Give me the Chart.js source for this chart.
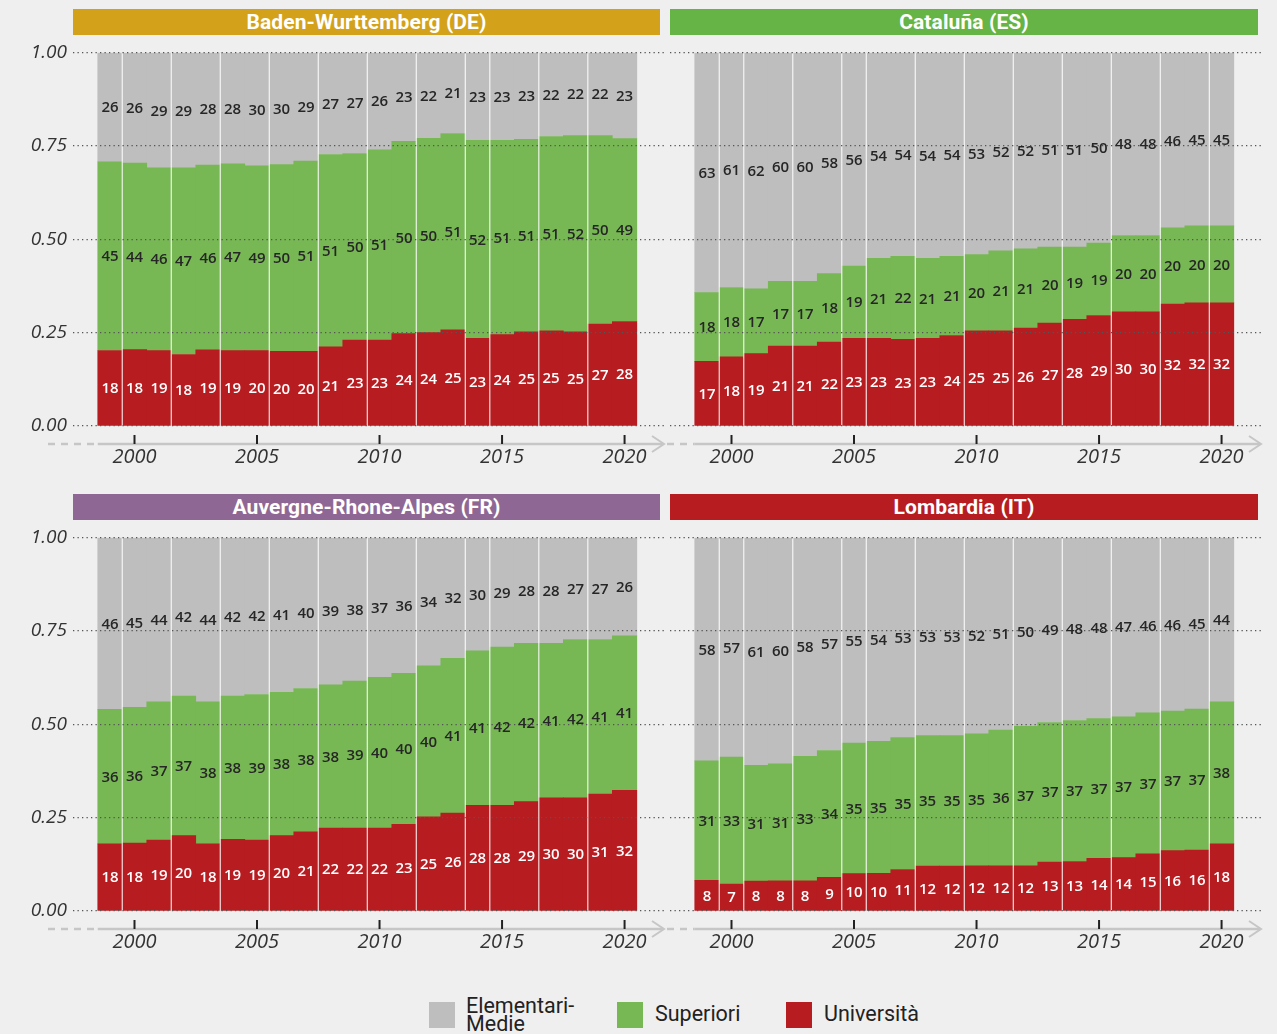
<!DOCTYPE html>
<html><head><meta charset="utf-8">
<script src="https://cdn.jsdelivr.net/npm/chart.js@4.4.0/dist/chart.umd.min.js"></script>
<style>
html,body{margin:0;padding:0;background:#efefef;}
body{width:1277px;height:1034px;position:relative;overflow:hidden;font-family:Roboto,sans-serif;}
.strip{position:absolute;height:26px;color:#fff;font:700 21px Roboto,sans-serif;text-align:center;line-height:26px;letter-spacing:0.1px;}
canvas{position:absolute;}
.sq{position:absolute;width:26px;height:26px;top:1002px;}
.lt{position:absolute;font:400 21.5px Roboto,sans-serif;color:#222;line-height:18px;top:997px;}
</style></head><body>
<script>
// ---------- DATA ----------
const years = [1999,2000,2001,2002,2003,2004,2005,2006,2007,2008,2009,2010,2011,2012,2013,2014,2015,2016,2017,2018,2019,2020];
const xTicks = [2000,2005,2010,2015,2020];
const yTicks = [0,0.25,0.5,0.75,1];
const seriesNames = ['Elementari-Medie','Superiori','Università'];

const badenUni  = [18,18,19,18,19,19,20,20,20,21,23,23,24,24,25,23,24,25,25,25,27,28];
const badenSup  = [45,44,46,47,46,47,49,50,51,51,50,51,50,50,51,52,51,51,51,52,50,49];
const badenElem = [26,26,29,29,28,28,30,30,29,27,27,26,23,22,21,23,23,23,22,22,22,23];

const catUni  = [17,18,19,21,21,22,23,23,23,23,24,25,25,26,27,28,29,30,30,32,32,32];
const catSup  = [18,18,17,17,17,18,19,21,22,21,21,20,21,21,20,19,19,20,20,20,20,20];
const catElem = [63,61,62,60,60,58,56,54,54,54,54,53,52,52,51,51,50,48,48,46,45,45];

const auvUni  = [18,18,19,20,18,19,19,20,21,22,22,22,23,25,26,28,28,29,30,30,31,32];
const auvSup  = [36,36,37,37,38,38,39,38,38,38,39,40,40,40,41,41,42,42,41,42,41,41];
const auvElem = [46,45,44,42,44,42,42,41,40,39,38,37,36,34,32,30,29,28,28,27,27,26];

const lomUni  = [8,7,8,8,8,9,10,10,11,12,12,12,12,12,13,13,14,14,15,16,16,18];
const lomSup  = [31,33,31,31,33,34,35,35,35,35,35,35,36,37,37,37,37,37,37,37,37,38];
const lomElem = [58,57,61,60,58,57,55,54,53,53,53,52,51,50,49,48,48,47,46,46,45,44];

const titles = ['Baden-Wurttemberg (DE)','Cataluña (ES)','Auvergne-Rhone-Alpes (FR)','Lombardia (IT)'];

// ---------- STYLE ----------
const COL_ELEM = '#bebebe', COL_SUP = '#77b855', COL_UNI = '#b71c20';
const stripColors = ['#d4a21a','#66b446','#8f6795','#b71c20'];
const sepLeft  = [1999.5,2001.5,2003.5,2005.5,2007.5,2009.5,2011.5,2013.5,2014.5,2016.5,2018.5];
const sepRight = [1999.5,2000.5,2002.5,2004.5,2005.5,2007.5,2009.5,2011.5,2013.5,2015.5,2017.5,2019.5];

const panels = [
  {title:titles[0], color:stripColors[0], uni:badenUni, sup:badenSup, elem:badenElem, left:0,   top:40,  showY:true,  dashOff:25, seps:sepLeft},
  {title:titles[1], color:stripColors[1], uni:catUni,   sup:catSup,   elem:catElem,   left:597, top:40,  showY:false, dashOff:3,  seps:sepRight},
  {title:titles[2], color:stripColors[2], uni:auvUni,   sup:auvSup,   elem:auvElem,   left:0,   top:525, showY:true,  dashOff:25, seps:sepLeft},
  {title:titles[3], color:stripColors[3], uni:lomUni,   sup:lomSup,   elem:lomElem,   left:597, top:525, showY:false, dashOff:3,  seps:sepRight}
];

const CW = 668, CH = 440;

const segLabels = {
  id:'segLabels',
  afterDraw(chart){
    const ctx = chart.ctx;
    ctx.save();
    ctx.font = "600 15px 'Open Sans', sans-serif";
    ctx.textAlign = 'center';
    ctx.textBaseline = 'middle';
    chart.data.datasets.forEach((ds,di)=>{
      const meta = chart.getDatasetMeta(di);
      meta.data.forEach((el,i)=>{
        const p = el.getProps(['x','y','base'], true);
        ctx.fillStyle = ds.labelColor;
        ctx.fillText(String(ds.raw[i]), p.x, (p.y + p.base)/2 + 1);
      });
    });
    ctx.restore();
  }
};

const axisDeco = {
  id:'axisDeco',
  afterDatasetsDraw(chart, args, opts){
    const ctx = chart.ctx, xs = chart.scales.x, ys = chart.scales.y;
    ctx.save();
    ctx.strokeStyle = 'rgba(255,255,255,0.85)';
    ctx.lineWidth = 1.2;
    const t = ys.getPixelForValue(1), b = ys.getPixelForValue(0);
    opts.seps.forEach(v=>{
      const px = xs.getPixelForValue(v);
      ctx.beginPath(); ctx.moveTo(px, t); ctx.lineTo(px, b); ctx.stroke();
    });
    ctx.restore();
  },
  afterDraw(chart, args, opts){
    const ctx = chart.ctx, xs = chart.scales.x, area = chart.chartArea;
    const yA = area.bottom + 18;
    const x0 = xs.getPixelForValue(years[0] - 0.5);
    ctx.save();
    ctx.strokeStyle = '#c6c6c6';
    ctx.lineWidth = 2.5;
    ctx.setLineDash([7,6]);
    ctx.beginPath(); ctx.moveTo(area.left - opts.dashOff, yA); ctx.lineTo(x0, yA); ctx.stroke();
    ctx.setLineDash([]);
    ctx.beginPath(); ctx.moveTo(x0, yA); ctx.lineTo(area.right - 2, yA); ctx.stroke();
    ctx.lineWidth = 2;
    ctx.beginPath();
    ctx.moveTo(area.right - 13, yA - 8); ctx.lineTo(area.right - 1, yA); ctx.lineTo(area.right - 13, yA + 8);
    ctx.stroke();
    ctx.strokeStyle = '#222';
    ctx.lineWidth = 2;
    xTicks.forEach(v=>{
      const px = xs.getPixelForValue(v);
      ctx.beginPath(); ctx.moveTo(px, yA - 9); ctx.lineTo(px, yA); ctx.stroke();
    });
    ctx.restore();
  }
};

panels.forEach((p, idx)=>{
  const strip = document.createElement('div');
  strip.className = 'strip';
  strip.style.left = (p.left + 73) + 'px';
  strip.style.width = (idx % 2 === 0 ? 587 : 588) + 'px';
  strip.style.top = (p.top - 31) + 'px';
  strip.style.background = p.color;
  strip.textContent = p.title;
  document.body.appendChild(strip);

  const cv = document.createElement('canvas');
  cv.width = CW; cv.height = CH;
  cv.style.left = p.left + 'px'; cv.style.top = p.top + 'px';
  cv.style.width = CW + 'px'; cv.style.height = CH + 'px';
  document.body.appendChild(cv);

  const totals = years.map((y,i)=> p.uni[i] + p.sup[i] + p.elem[i]);
  const mk = (arr) => years.map((y,i)=>({x:y, y: arr[i] / totals[i]}));

  new Chart(cv.getContext('2d'), {
    type:'bar',
    data:{
      datasets:[
        {label:seriesNames[2], data:mk(p.uni),  raw:p.uni,  backgroundColor:COL_UNI,  labelColor:'#ffffff'},
        {label:seriesNames[1], data:mk(p.sup),  raw:p.sup,  backgroundColor:COL_SUP,  labelColor:'#262626'},
        {label:seriesNames[0], data:mk(p.elem), raw:p.elem, backgroundColor:COL_ELEM, labelColor:'#262626'}
      ]
    },
    options:{
      responsive:false,
      animation:false,
      devicePixelRatio:1,
      layout:{padding:{top:12.7, right:3, bottom:0, left:0}},
      datasets:{bar:{barPercentage:1, categoryPercentage:1, borderWidth:0}},
      plugins:{legend:{display:false}, tooltip:{enabled:false}, axisDeco:{seps:p.seps, dashOff:p.dashOff}},
      scales:{
        x:{
          type:'linear', stacked:true, min:1997.49, max:2021.65, offset:false,
          grid:{display:false}, border:{display:false},
          afterBuildTicks: s => { s.ticks = xTicks.map(v=>({value:v})); },
          afterFit: s => { s.height = 54; },
          ticks:{autoSkip:false, maxRotation:0, padding:11, color:'#333',
                 font:{family:"'Open Sans', sans-serif", size:20, style:'italic', weight:400},
                 callback: v => String(v)}
        },
        y:{
          stacked:true, min:0, max:1,
          grid:{color:'#555', lineWidth:1.3, drawTicks:false, z:1},
          border:{display:false, dash:[1.3,3.2]},
          afterBuildTicks: s => { s.ticks = yTicks.map(v=>({value:v})); },
          afterFit: s => { s.width = 73; },
          ticks:{display:p.showY, padding:6, color:'#333',
                 font:{family:"'Open Sans', sans-serif", size:19, style:'italic', weight:400, lineHeight:0.6},
                 callback: v => Number(v).toFixed(2)}
        }
      }
    },
    plugins:[axisDeco, segLabels]
  });
});

// legend
const legendItems = [
  {name:'Elementari-<br>Medie', color:COL_ELEM, sq:429, tx:466},
  {name:'Superiori', color:COL_SUP, sq:617, tx:655},
  {name:'Università', color:COL_UNI, sq:786, tx:824}
];
legendItems.forEach(it=>{
  const s = document.createElement('div'); s.className='sq'; s.style.left = it.sq+'px'; s.style.background = it.color;
  document.body.appendChild(s);
  const t = document.createElement('div'); t.className='lt'; t.style.left = it.tx+'px'; t.innerHTML = it.name;
  if (it.name.indexOf('<br>') < 0) t.style.top = '1005px';
  document.body.appendChild(t);
});
</script>
</body></html>
